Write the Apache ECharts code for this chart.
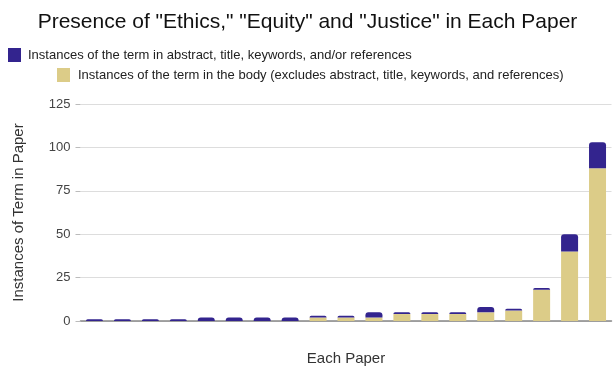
<!DOCTYPE html>
<html>
<head>
<meta charset="utf-8">
<script src="https://cdn.jsdelivr.net/npm/echarts@6/dist/echarts.min.js"></script>
<style>
  html, body { margin: 0; padding: 0; background: #fff; }
  #chart { width: 615px; height: 367px; }
</style>
</head>
<body>
<div id="chart"></div>
<script>
// One category per paper
const papers = ['1','2','3','4','5','6','7','8','9','10','11','12','13','14','15','16','17','18','19'];
// Mentions in the body text
const bodyCounts = [0, 0, 0, 0, 0, 0, 0, 0, 2, 2, 2, 4, 4, 4, 5, 6, 18, 40, 88];
// Mentions in abstract, title, keywords and/or references
const frontCounts = [1, 1, 1, 1, 2, 2, 2, 2, 1, 1, 3, 1, 1, 1, 3, 1, 1, 10, 15];
const yTicks = { min: 0, max: 125, interval: 25 };

const FRONT_NAME = 'Instances of the term in abstract, title, keywords, and/or references';
const BODY_NAME = 'Instances of the term in the body (excludes abstract, title, keywords, and references)';

const chart = echarts.init(document.getElementById('chart'), null, { renderer: 'canvas' });
const font = 'Liberation Sans, Arial, sans-serif';

chart.setOption({
  animation: false,
  textStyle: { fontFamily: font },
  title: {
    text: 'Presence of "Ethics," "Equity" and "Justice" in Each Paper',
    left: 'center',
    top: 7,
    textStyle: { fontSize: 21, fontWeight: 'normal', color: '#111', fontFamily: font }
  },
  legend: [
    {
      data: [FRONT_NAME],
      left: 3,
      top: 43,
      itemWidth: 13, itemHeight: 14,
      icon: 'rect',
      textStyle: { fontSize: 13, color: '#222', fontFamily: font, padding: [0, 0, 0, 2] }
    },
    {
      data: [BODY_NAME],
      left: 52,
      top: 63,
      itemWidth: 13, itemHeight: 14,
      icon: 'rect',
      textStyle: { fontSize: 13, color: '#222', fontFamily: font, padding: [0, 0, 0, 3] }
    }
  ],
  grid: {
    left: 80.5, right: 3.5, top: 104, bottom: 46,
    containLabel: false,
    outerBoundsMode: 'none'
  },
  xAxis: {
    type: 'category',
    data: papers,
    name: 'Each Paper',
    nameLocation: 'middle',
    nameGap: 30,
    nameTextStyle: { fontSize: 15, color: '#333', fontFamily: font },
    axisLine: { lineStyle: { color: '#888', width: 1.5 } },
    axisTick: { show: false },
    axisLabel: { show: false }
  },
  yAxis: {
    type: 'value',
    min: yTicks.min, max: yTicks.max, interval: yTicks.interval,
    name: 'Instances of Term in Paper',
    nameLocation: 'middle',
    nameGap: 54,
    nameTextStyle: { fontSize: 15, color: '#333', fontFamily: font },
    axisLine: { show: false },
    axisTick: { show: true, length: 5, lineStyle: { color: '#bbb' } },
    axisLabel: { fontSize: 13, color: '#444', margin: 10, fontFamily: font },
    splitLine: { lineStyle: { color: '#ddd', width: 1 } }
  },
  series: [
    {
      name: BODY_NAME,
      type: 'bar',
      stack: 'total',
      data: bodyCounts,
      barWidth: 17,
      itemStyle: { color: '#dccc88' }
    },
    {
      name: FRONT_NAME,
      type: 'bar',
      stack: 'total',
      data: frontCounts,
      barWidth: 17,
      itemStyle: { color: '#33248e', borderRadius: [3, 3, 0, 0] }
    }
  ]
});
</script>
</body>
</html>
